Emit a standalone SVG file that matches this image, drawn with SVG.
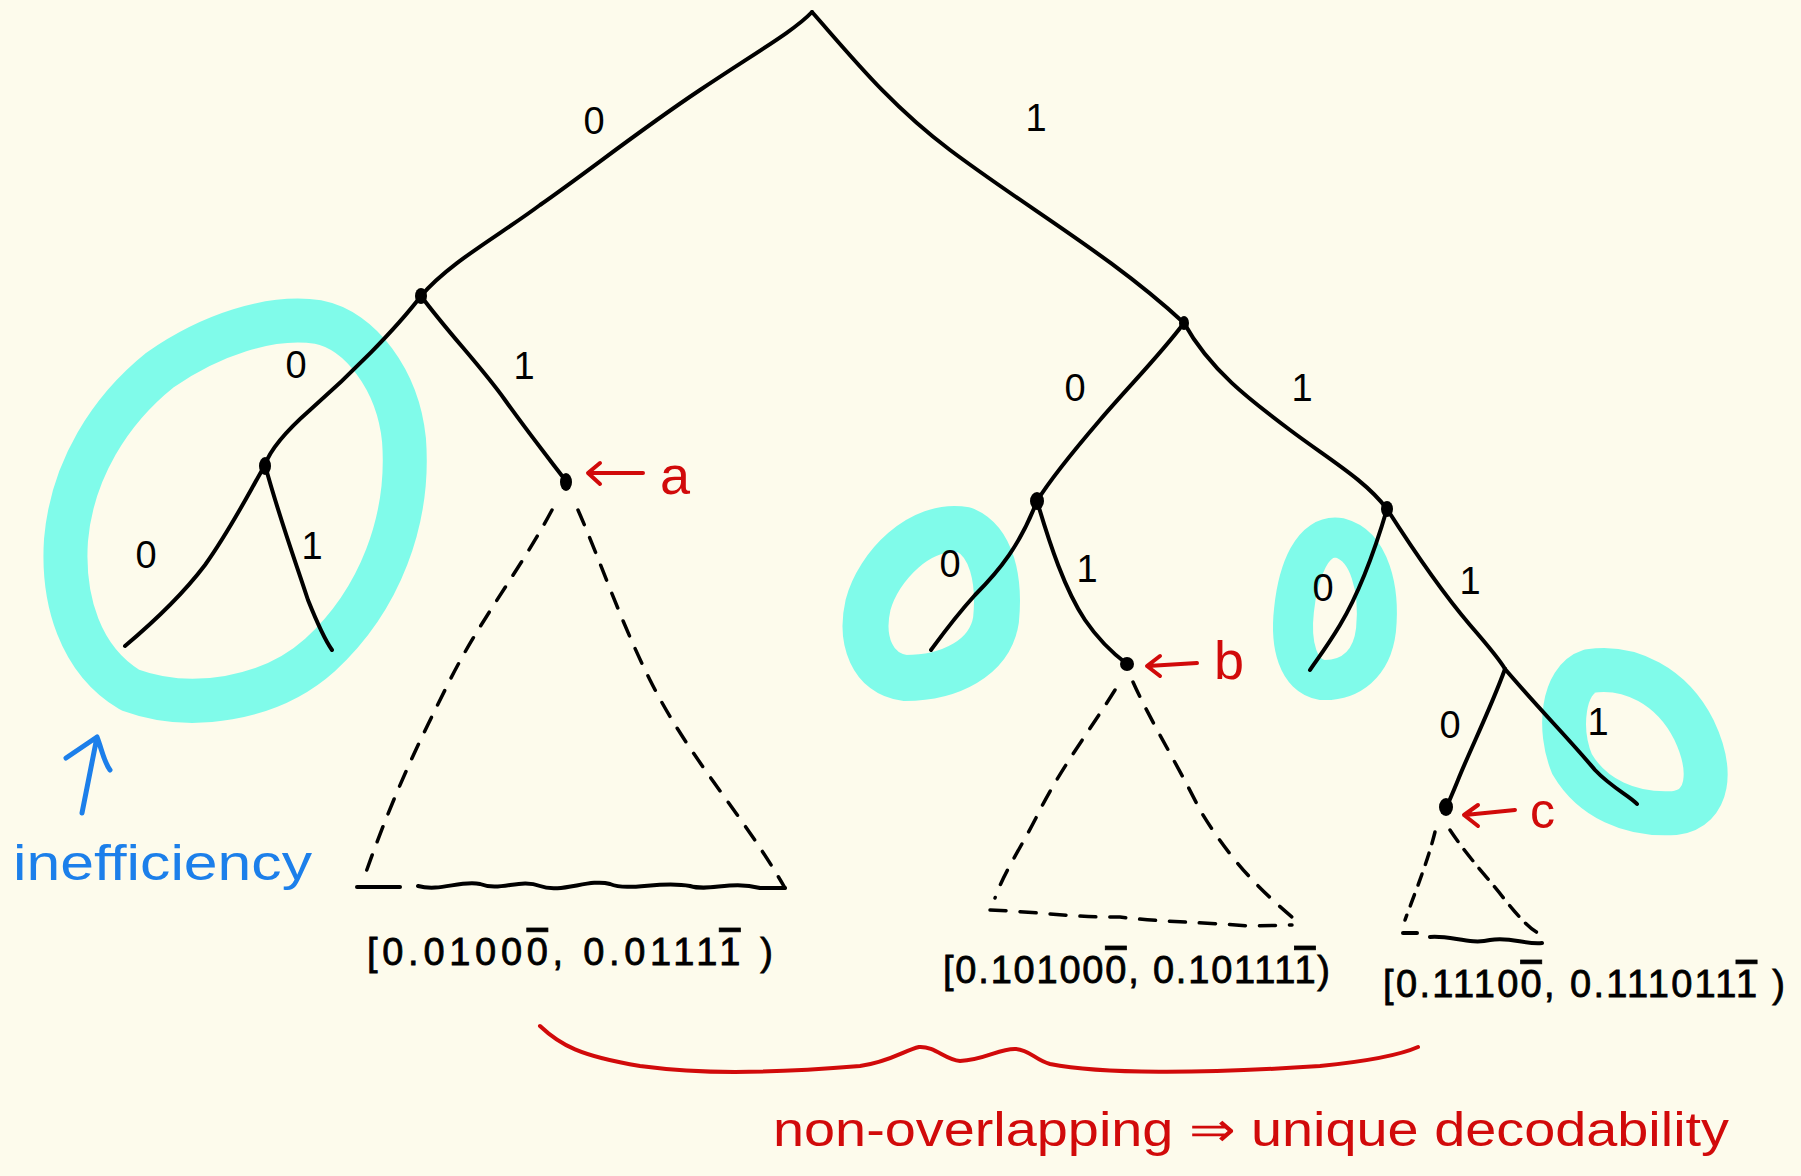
<svg xmlns="http://www.w3.org/2000/svg" width="1801" height="1176" viewBox="0 0 1801 1176">
<defs>
<style>
.bg{fill:#FDFBEC}
.ring{fill:none;stroke:#80FBEA;stroke-linejoin:round;stroke-linecap:round}
.edge{fill:none;stroke:#000;stroke-width:4;stroke-linecap:round;stroke-linejoin:round}
.dash{fill:none;stroke:#000;stroke-width:3.5;stroke-linecap:round;stroke-dasharray:16 14}
.dot{fill:#000}
.lbl{font-family:"Liberation Sans",Arial,sans-serif;font-size:38px;fill:#000;text-anchor:middle}
.iv{font-family:"Liberation Sans",Arial,sans-serif;font-size:38px;fill:#000;stroke:#000;stroke-width:0.8}
.ol{text-decoration:overline}
.red{fill:none;stroke:#D10A0A;stroke-width:4;stroke-linecap:round;stroke-linejoin:round}
.redt{font-family:"Liberation Sans",Arial,sans-serif;fill:#D10A0A}
.blue{fill:none;stroke:#1C7FEA;stroke-width:5;stroke-linecap:round;stroke-linejoin:round}
.bluet{font-family:"Liberation Sans",Arial,sans-serif;fill:#1C7FEA}
</style>
</defs>
<rect class="bg" x="0" y="0" width="1801" height="1176"/>

<g id="highlights">
<path class="ring" stroke-width="44" d="M318,322 C360,330 398,380 404,440 C410,520 380,600 320,655 C270,700 190,712 130,690 C80,660 62,600 66,540 C72,470 110,410 160,370 C210,335 270,315 318,322 Z"/>
<path class="ring" stroke-width="46" d="M965,530 C992,542 1000,580 996,620 C990,658 950,678 905,678 C872,674 860,640 868,605 C878,567 920,522 965,530 Z"/>
<path class="ring" stroke-width="40" d="M1340,538 C1370,546 1380,590 1376,630 C1372,664 1350,681 1322,680 C1298,676 1290,645 1294,610 C1298,572 1312,533 1340,538 Z"/>
<path class="ring" stroke-width="44" d="M1590,671 C1630,665 1672,686 1694,730 C1713,770 1710,808 1675,813 C1630,816 1592,798 1572,764 C1558,730 1562,680 1590,671 Z"/>
</g>

<g id="connectors">
<path class="edge" d="M812,12 C795,30 760,50 700,90 C640,130 590,170 540,205 C500,235 450,262 421,296"/>
<path class="edge" d="M812,12 C850,55 890,105 950,150 C1030,210 1110,255 1184,323"/>
<path class="edge" d="M421,296 C395,330 350,375 310,410 C285,432 270,450 265,465"/>
<path class="edge" d="M421,296 C450,335 480,365 505,400 C530,435 550,460 566,481"/>
<path class="edge" d="M265,465 C245,500 230,530 205,565 C180,598 150,625 125,646"/>
<path class="edge" d="M265,465 C280,520 295,560 308,600 C318,625 325,640 332,650"/>
<path class="edge" d="M1184,323 C1160,355 1130,385 1100,420 C1070,455 1050,480 1037,501"/>
<path class="edge" d="M1184,323 C1210,370 1250,400 1290,430 C1330,460 1365,480 1387,509"/>
<path class="edge" d="M1037,501 C1020,545 1000,570 975,595 C955,617 942,635 931,650"/>
<path class="edge" d="M1037,501 C1050,545 1065,590 1085,620 C1100,642 1115,655 1127,664"/>
<path class="edge" d="M1387,509 C1372,560 1355,600 1340,625 C1325,650 1315,662 1310,670"/>
<path class="edge" d="M1387,509 C1410,545 1440,590 1470,625 C1490,648 1500,660 1505,669"/>
<path class="edge" d="M1505,669 C1490,710 1470,750 1458,780 C1452,795 1448,803 1446,809"/>
<path class="edge" d="M1505,669 C1540,710 1570,740 1595,770 C1612,788 1630,796 1637,804"/>
<path class="dash" d="M552,510 C520,570 480,620 450,680 C420,740 395,790 365,875"/>
<path class="dash" d="M578,510 C600,560 620,620 650,680 C690,760 740,810 785,888"/>
<path class="edge" d="M357,887 L400,887"/>
<path class="edge" d="M418,886 C440,892 460,880 480,884 C500,892 520,878 540,886 C560,894 590,878 610,884 C630,892 660,880 690,886 C710,892 730,880 760,888 L785,888"/>
<path class="dash" d="M1115,690 C1090,730 1060,770 1040,810 C1020,850 1005,870 995,898"/>
<path class="dash" d="M1133,682 C1150,720 1175,760 1200,810 C1230,860 1260,890 1292,917"/>
<path class="dash" d="M990,910 C1040,912 1080,918 1120,917 C1160,922 1200,922 1250,926 L1292,925"/>
<path class="dash" style="stroke-dasharray:12 10" d="M1435,832 C1428,860 1418,885 1405,920"/>
<path class="dash" style="stroke-dasharray:14 10" d="M1450,830 C1470,860 1490,880 1505,900 C1520,918 1530,930 1542,935"/>
<path class="edge" d="M1403,933 L1417,933"/>
<path class="edge" d="M1430,937 C1450,935 1470,945 1490,940 C1510,936 1525,945 1542,943"/>
</g>

<g id="nodes">
<g id="n-L"><ellipse class="dot" cx="421" cy="296" rx="6" ry="8"/></g>
<g id="n-R"><ellipse class="dot" cx="1184" cy="323" rx="5" ry="7"/></g>
<g id="n-LL"><ellipse class="dot" cx="265" cy="466" rx="6" ry="9"/></g>
<g id="n-a"><ellipse class="dot" cx="566" cy="482" rx="6" ry="9"/></g>
<g id="n-RL"><ellipse class="dot" cx="1037" cy="501" rx="7" ry="9"/></g>
<g id="n-RR"><ellipse class="dot" cx="1387" cy="509" rx="6" ry="8"/></g>
<g id="n-b"><ellipse class="dot" cx="1127" cy="664" rx="7" ry="7"/></g>
<g id="n-c"><ellipse class="dot" cx="1446" cy="807" rx="7" ry="9"/></g>
</g>

<g id="edge-labels">
<text class="lbl" x="594" y="134">0</text>
<text class="lbl" x="1036" y="131">1</text>
<text class="lbl" x="296" y="378">0</text>
<text class="lbl" x="524" y="379">1</text>
<text class="lbl" x="146" y="568">0</text>
<text class="lbl" x="312" y="559">1</text>
<text class="lbl" x="1075" y="401">0</text>
<text class="lbl" x="1302" y="401">1</text>
<text class="lbl" x="950" y="577">0</text>
<text class="lbl" x="1087" y="582">1</text>
<text class="lbl" x="1323" y="601">0</text>
<text class="lbl" x="1470" y="594">1</text>
<text class="lbl" x="1450" y="738">0</text>
<text class="lbl" x="1598" y="735">1</text>
</g>

<g id="pointers">
<path class="red" d="M643,473 L590,473 M600,463 L588,473 L600,484"/>
<text class="redt" x="660" y="494" font-size="54">a</text>
<path class="red" d="M1197,663 L1148,666 M1160,656 L1147,666 L1160,676"/>
<text class="redt" x="1214" y="679" font-size="54">b</text>
<path class="red" d="M1515,810 L1465,815 M1478,805 L1464,815 L1478,826"/>
<text class="redt" x="1530" y="828" font-size="50">c</text>
</g>

<g id="intervals">
<text class="iv" x="367" y="965" textLength="406" lengthAdjust="spacing">[0.0100<tspan class="ol">0</tspan>, 0.0111<tspan class="ol">1</tspan> )</text>
<text class="iv" x="943" y="983" textLength="387" lengthAdjust="spacing">[0.10100<tspan class="ol">0</tspan>, 0.10111<tspan class="ol">1</tspan>)</text>
<text class="iv" x="1383" y="997" textLength="402" lengthAdjust="spacing">[0.1110<tspan class="ol">0</tspan>, 0.111011<tspan class="ol">1</tspan> )</text>
</g>

<g id="inefficiency">
<path class="blue" d="M82,813 L97,737 M66,758 L97,737 C102,750 104,762 110,770"/>
<text class="bluet" x="13" y="880" font-size="50" textLength="299" lengthAdjust="spacingAndGlyphs">inefficiency</text>
</g>

<g id="conclusion">
<path class="red" d="M540,1026 C560,1045 580,1056 640,1066 C700,1074 760,1074 860,1066 C890,1062 905,1050 919,1047 C935,1046 945,1060 960,1061 C985,1060 1000,1048 1016,1049 C1030,1050 1035,1060 1050,1064 C1100,1074 1200,1074 1320,1066 C1370,1061 1400,1055 1418,1047"/>
<text class="redt" x="773" y="1146" font-size="48" textLength="956" lengthAdjust="spacingAndGlyphs">non-overlapping ⇒ unique decodability</text>
</g>
</svg>
